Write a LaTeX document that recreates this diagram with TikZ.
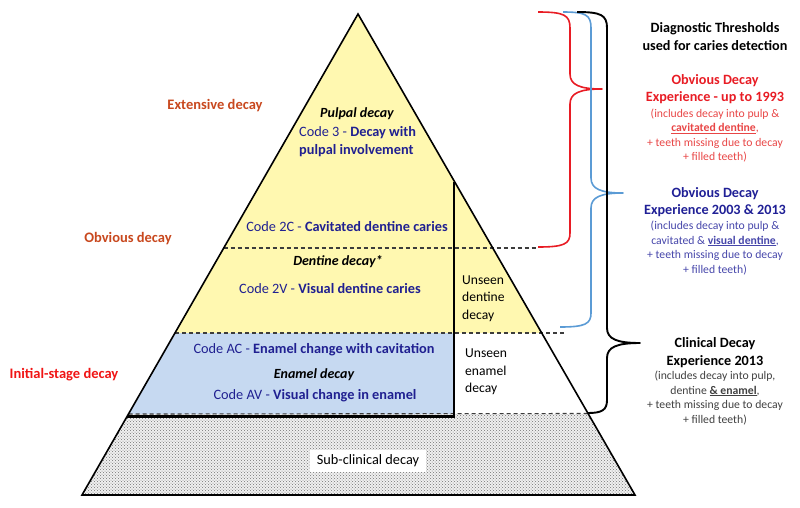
\documentclass[tikz,border=0pt]{standalone}
\usepackage{fontspec}
\setmainfont{Carlito}
\usetikzlibrary{patterns}
\definecolor{pyryellow}{RGB}{255,248,176}
\definecolor{pyrblue}{RGB}{198,217,241}
\definecolor{codeblue}{RGB}{32,32,145}
\definecolor{extorange}{RGB}{200,72,30}
\definecolor{initred}{RGB}{240,20,20}
\definecolor{thrred}{RGB}{232,28,36}
\definecolor{thrredlt}{RGB}{232,70,70}
\definecolor{thrblue}{RGB}{32,32,150}
\definecolor{thrbluelt}{RGB}{70,70,170}
\definecolor{bracblue}{RGB}{91,155,213}
\definecolor{dgray}{RGB}{60,60,60}
\tikzset{
  codetxt/.style={font=\fontsize{14.3}{17}\selectfont, text=codeblue, inner sep=0pt},
  layertxt/.style={font=\fontsize{14}{17}\selectfont\bfseries\itshape, inner sep=0pt},
  sidetxt/.style={font=\fontsize{14.5}{17}\selectfont\bfseries, inner sep=0pt},
  unseentxt/.style={font=\fontsize{13.6}{17.5}\selectfont, align=left, anchor=west, inner sep=0pt},
  headtxt/.style={font=\fontsize{14.2}{17.5}\selectfont\bfseries, align=center, inner sep=0pt},
  smalltxt/.style={font=\fontsize{11.7}{14.6}\selectfont, align=center, inner sep=0pt},
  divider/.style={dgray, line width=1.1pt, dash pattern=on 4pt off 3pt},
  outline/.style={black, line width=1.6pt, line join=miter},
  thickL/.style={black, line width=2.8pt, line join=miter},
  bracestyle/.style={line width=1.6pt, line join=round},
}
\begin{document}
\begin{tikzpicture}[x=1pt,y=-1pt]
\useasboundingbox (0,0) rectangle (800,507);
% pyramid coordinates
\coordinate (A) at (358,14);
\coordinate (BL) at (82,495);
\coordinate (BR) at (635,495);
\coordinate (L1) at (223.7,248);
\coordinate (L2) at (175,333);
\coordinate (R2) at (541,333);
\coordinate (L3) at (128.5,414);
\coordinate (R3) at (587.5,414);
\coordinate (L4) at (127.3,416.5);
\coordinate (VT) at (454,182);
\coordinate (VB) at (454,416.5);
\coordinate (B2) at (454,333);
\coordinate (B3) at (454,414);
% fills
\fill[pyryellow] (A) -- (L2) -- (R2) -- cycle;
\fill[pyrblue] (L2) -- (B2) -- (B3) -- (L3) -- cycle;
\fill[black!6] (L3) -- (R3) -- (BR) -- (BL) -- cycle;
\fill[pattern=crosshatch dots, pattern color=black!55] (L3) -- (R3) -- (BR) -- (BL) -- cycle;
% dividers
\coordinate (D1) at (538,248);
\coordinate (D2) at (566,333);
\coordinate (D3) at (588,413.5);
\draw[divider] (L1) -- (D1);
\draw[divider] (L2) -- (D2);
\draw[divider] (L3) -- (D3);
% outline
\draw[outline] (A) -- (BL) -- (BR) -- cycle;
\draw[thickL] (VT) -- (VB) -- (L4);
% braces
\draw[bracestyle, thrred] (538,12) .. controls (564,12) and (570,15) .. (570,28) -- (570,74) .. controls (570,85) and (580,89) .. (602,89)
  .. controls (580,89) and (570,93) .. (570,104) -- (570,233) .. controls (570,244) and (564,247) .. (538,247);
\draw[bracestyle, bracblue] (563,12) .. controls (586,12) and (591,15) .. (591,28) -- (591,178) .. controls (591,189) and (601,193) .. (623,193)
  .. controls (601,193) and (591,197) .. (591,208) -- (591,313) .. controls (591,324) and (585,327) .. (560,327);
\draw[bracestyle, black, line width=1.9pt] (577,12) .. controls (601,12) and (607,15) .. (607,28) -- (607,328) .. controls (607,339) and (617,343) .. (640,343)
  .. controls (617,343) and (607,347) .. (607,358) -- (607,400) .. controls (607,410) and (602,413) .. (588,413);
% left labels
\node[sidetxt, text=extorange] (ext) at (215,106) {Extensive decay};
\node[sidetxt, text=extorange] (obv) at (128,239) {Obvious decay};
\node[sidetxt, text=initred] (ini) at (64,375) {Initial-stage decay};
% pyramid texts
\node[layertxt] (pulp) at (357,114) {Pulpal decay};
\node[codetxt, align=left, anchor=west, font=\fontsize{14.3}{18}\selectfont] (c3) at (299,142) {Code 3 - \textbf{Decay with}\\\textbf{pulpal involvement}};
\node[codetxt] (c2c) at (347,227) {Code 2C - \textbf{Cavitated dentine caries}};
\node[layertxt] (dent) at (338,262) {Dentine decay*};
\node[codetxt] (c2v) at (330,289) {Code 2V - \textbf{Visual dentine caries}};
\node[codetxt] (cac) at (314,350) {Code AC - \textbf{Enamel change with cavitation}};
\node[layertxt] (enam) at (314,375) {Enamel decay};
\node[codetxt] (cav) at (315,396) {Code AV - \textbf{Visual change in enamel}};
\node[unseentxt] (usd) at (462,298.5) {Unseen\\dentine\\decay};
\node[unseentxt] (use) at (465,372) {Unseen\\enamel\\decay};
\node[fill=white, inner xsep=7pt, inner ysep=5pt, font=\fontsize{14.3}{17}\selectfont] (sub) at (368,461) {Sub-clinical decay};
% right texts
\node[headtxt] (dt) at (715,36.5) {Diagnostic Thresholds\\used for caries detection};
\node[headtxt, text=thrred] (h1) at (715,89) {Obvious Decay\\Experience - up to 1993};
\node[smalltxt, text=thrredlt] (s1) at (715,135.5) {(includes decay into pulp \&\\\textbf{\underline{cavitated dentine}},\\+ teeth missing due to decay\\+ filled teeth)};
\node[headtxt, text=thrblue] (h2) at (715,202) {Obvious Decay\\Experience 2003 \& 2013};
\node[smalltxt, text=thrbluelt] (s2) at (715,248) {(includes decay into pulp \&\\cavitated \& \textbf{\underline{visual dentine}},\\+ teeth missing due to decay\\+ filled teeth)};
\node[headtxt] (h3) at (715,352.5) {Clinical Decay\\Experience 2013};
\node[smalltxt, text=black!75] (s3) at (715,398) {(includes decay into pulp,\\dentine \textbf{\underline{\& enamel}},\\+ teeth missing due to decay\\+ filled teeth)};
\end{tikzpicture}
\end{document}
